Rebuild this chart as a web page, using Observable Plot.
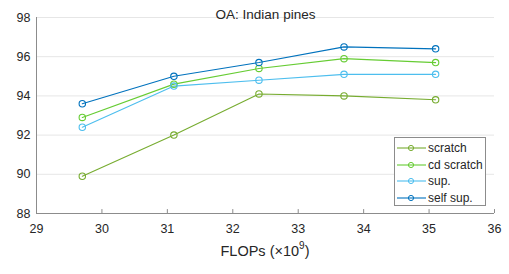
<!DOCTYPE html>
<html>
<head>
<meta charset="utf-8">
<script src="https://cdn.jsdelivr.net/npm/d3@7"></script>
<script src="https://cdn.jsdelivr.net/npm/@observablehq/plot@0.6"></script>
<style>
  body { margin: 0; background: #fff; }
  #wrap { position: relative; width: 509px; height: 274px; font-family: "Liberation Sans", Arial, sans-serif; }
  #legend { position: absolute; left: 394px; top: 137px; width: 92px; height: 69px; border: 1px solid #8c8c8c; background: #fff; box-sizing: border-box; padding-top: 2px; }
  .row { display: flex; align-items: center; height: 16.5px; font-size: 12px; color: #262626; white-space: nowrap; }
  .row svg { margin-left: 2px; margin-right: 2px; flex: none; }
  #xlabel { position: absolute; left: 36px; width: 458px; top: 241px; text-align: center; font-size: 14.5px; color: #262626; white-space: nowrap; }
  #xlabel sup { font-size: 10px; position: relative; top: -1px; }
</style>
</head>
<body>
<div id="wrap"></div>
<script>
const flops = [29.7, 31.1, 32.4, 33.7, 35.1];
const seriesNames = ["scratch", "cd scratch", "sup.", "self sup."];
const scratch   = [89.9, 92.0, 94.1, 94.0, 93.8];
const cdScratch = [92.9, 94.6, 95.4, 95.9, 95.7];
const sup       = [92.4, 94.5, 94.8, 95.1, 95.1];
const selfSup   = [93.6, 95.0, 95.7, 96.5, 96.4];
const colors = ["#77AC30", "#66CC33", "#4DBEEE", "#0072BD"];
const xTicks = [29, 30, 31, 32, 33, 34, 35, 36];
const yTicks = [88, 90, 92, 94, 96, 98];

const values = [scratch, cdScratch, sup, selfSup];
const data = [];
seriesNames.forEach((s, i) => flops.forEach((f, j) => data.push({series: s, x: f, y: values[i][j]})));

const chart = Plot.plot({
  width: 509, height: 274,
  marginLeft: 36, marginRight: 15, marginTop: 17, marginBottom: 61,
  style: {fontFamily: "Liberation Sans, Arial, sans-serif", fontSize: "12.5px", color: "#262626", background: "#fff"},
  x: {domain: [29, 36], ticks: xTicks},
  y: {domain: [88, 98], ticks: yTicks},
  color: {domain: seriesNames, range: colors},
  marks: [
    Plot.gridY(yTicks, {stroke: "#e6e6e6", strokeOpacity: 1}),
    Plot.ruleY([88], {stroke: "#8c8c8c"}),
    Plot.ruleX([29], {stroke: "#8c8c8c"}),
    Plot.ruleX(xTicks, {x: d => d, y1: 88, y2: 88.2, stroke: "#8c8c8c"}),
    Plot.axisX(xTicks, {tickSize: 0, tickPadding: 11, label: null, fontSize: 12.5}),
    Plot.axisY(yTicks, {tickSize: 0, tickPadding: 6, label: null, fontSize: 12.5}),
    Plot.line(data, {x: "x", y: "y", z: "series", stroke: "series", strokeWidth: 1.1}),
    Plot.dot(data, {x: "x", y: "y", stroke: "series", r: 3.2, strokeWidth: 1.1, fill: "none"}),
    Plot.text(["OA: Indian pines"], {frameAnchor: "top", dy: -8, fontSize: 13.5, fill: "#262626"})
  ]
});
const wrap = document.getElementById("wrap");
wrap.appendChild(chart);

const xlabel = document.createElement("div");
xlabel.id = "xlabel";
xlabel.innerHTML = "FLOPs (×10<sup>9</sup>)";
wrap.appendChild(xlabel);

const legend = document.createElement("div");
legend.id = "legend";
seriesNames.forEach((s, i) => {
  const row = document.createElement("div");
  row.className = "row";
  row.innerHTML = `<svg width="29" height="8"><line x1="0" y1="4" x2="29" y2="4" stroke="${colors[i]}" stroke-width="1.1"/><circle cx="14" cy="4" r="2.6" fill="none" stroke="${colors[i]}" stroke-width="1"/></svg><span>${s}</span>`;
  legend.appendChild(row);
});
wrap.appendChild(legend);
</script>
</body>
</html>
